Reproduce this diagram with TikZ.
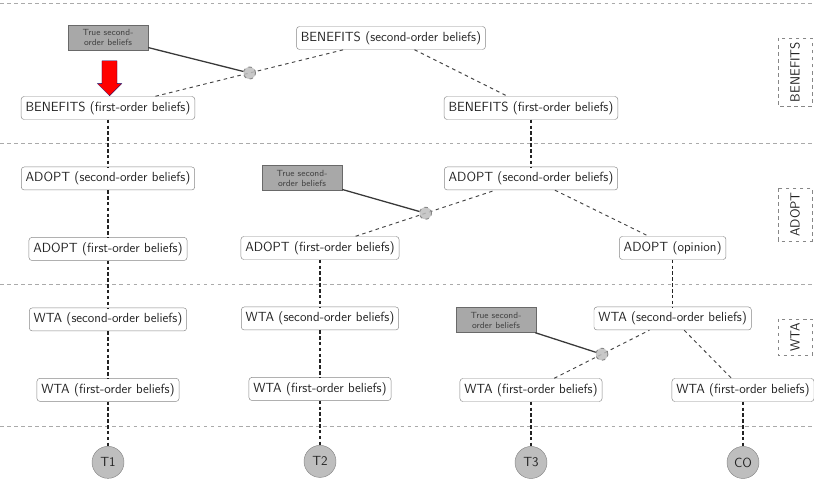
\documentclass[tikz,border=0pt]{standalone}
\usepackage{tikz}
\usetikzlibrary{positioning,shapes.arrows}
\definecolor{beliefline}{RGB}{135,135,135}
\definecolor{beliefink}{RGB}{35,35,35}
\definecolor{truefill}{RGB}{168,168,168}
\definecolor{trueline}{RGB}{105,105,105}
\definecolor{groupfill}{RGB}{190,190,190}
\definecolor{sepline}{RGB}{170,170,170}
\tikzset{
  every node/.style={font=\sffamily\fontsize{11.3}{13.5}\selectfont},
  belief/.style={draw=beliefline, rounded corners=2.5pt, fill=white, text=beliefink,
    minimum height=0.69cm, inner xsep=0.13cm, inner ysep=2pt},
  truebox/.style={draw=trueline, fill=truefill, text=beliefink!85,
    font=\sffamily\fontsize{7.6}{8.6}\selectfont,
    minimum width=2.4cm, minimum height=0.75cm, align=center, inner sep=1pt},
  mixdot/.style={circle, draw=beliefline, fill=groupfill, fill opacity=0.85,
    minimum size=0.36cm, inner sep=0pt},
  group/.style={circle, draw=beliefline, fill=groupfill, text=beliefink,
    minimum size=0.96cm, inner sep=0pt},
  grouplabel/.style={draw=beliefline, dashed, rotate=90, text=beliefink,
    minimum height=1.02cm, inner xsep=0.12cm},
  tiein/.style={densely dashed, line width=1pt, draw=beliefink},
  branch/.style={dashed, line width=0.8pt, draw=beliefink!85},
  truelink/.style={line width=1.1pt, draw=beliefink!90},
  separator/.style={dashed, line width=0.6pt, draw=sepline},
  hintarrow/.style={single arrow, shape border rotate=270, fill=red, draw=blue!40!black,
    line width=0.3pt, minimum height=1.05cm, inner sep=0.22cm,
    single arrow head extend=0.14cm}
}

\begin{document}
\begin{tikzpicture}[node distance=1.41cm]
  \useasboundingbox (0,0) rectangle (24.42,14.4);
  \foreach \y in {14.31,10.11,5.865,1.605}
    \draw[separator] (0,\y) -- (24.42,\y);

  % benefits
  \node[belief] (bensec) at (11.73,13.26) {BENEFITS (second-order beliefs)};
  \node[belief] (benfirst1) at (3.24,11.16) {BENEFITS (first-order beliefs)};
  \node[belief] (benfirst3) at (15.93,11.16) {BENEFITS (first-order beliefs)};
  \node[truebox] (true1) at (3.24,13.275) {True second-\\order beliefs};
  \node[hintarrow] (hint) at (3.285,12.165) {};

  % adopt
  \node[belief, below=of benfirst1] (adsec1) {ADOPT (second-order beliefs)};
  \node[belief, below=of adsec1] (adfirst1) {ADOPT (first-order beliefs)};
  \node[belief] (adfirst2) at (9.6,6.96) {ADOPT (first-order beliefs)};
  \node[belief, below=of benfirst3] (adsec3) {ADOPT (second-order beliefs)};
  \node[belief] (adop) at (20.18,6.96) {ADOPT (opinion)};
  \node[truebox] (true2) at (9.06,9.06) {True second-\\order beliefs};

  % wta
  \node[belief, below=of adfirst1] (wtasec1) {WTA (second-order beliefs)};
  \node[belief, below=of wtasec1] (wtafirst1) {WTA (first-order beliefs)};
  \node[belief, below=of adfirst2] (wtasec2) {WTA (second-order beliefs)};
  \node[belief, below=of wtasec2] (wtafirst2) {WTA (first-order beliefs)};
  \node[belief, below=of adop] (wtasec4) {WTA (second-order beliefs)};
  \node[belief] (wtafirst3) at (15.93,2.7) {WTA (first-order beliefs)};
  \node[belief] (wtafirst4) at (22.29,2.7) {WTA (first-order beliefs)};
  \node[truebox] (true3) at (14.88,4.8) {True second-\\order beliefs};

  \node[group, below=1.335cm of wtafirst1] (t1) {T1};
  \node[group, below=1.335cm of wtafirst2] (t2) {T2};
  \node[group, below=1.335cm of wtafirst3] (t3) {T3};
  \node[group, below=1.335cm of wtafirst4] (co) {CO};

  \node[grouplabel] (lbben) at (23.85,12.24) {BENEFITS};
  \node[grouplabel] (lbadopt) at (23.85,7.965) {ADOPT};
  \node[grouplabel] (lbwta) at (23.85,4.29) {WTA};

  % columns
  \draw[tiein] (benfirst1) -- (adsec1) -- (adfirst1) -- (wtasec1) -- (wtafirst1) -- (t1);
  \draw[tiein] (adfirst2) -- (wtasec2) -- (wtafirst2) -- (t2);
  \draw[tiein] (benfirst3) -- (adsec3);
  \draw[tiein] (wtafirst3) -- (t3);
  \draw[tiein] (adop) -- (wtasec4);
  \draw[tiein] (wtafirst4) -- (co);

  % branches
  \draw[branch] (benfirst1) -- node[mixdot] (mix1) {} (bensec);
  \draw[branch] (bensec) -- (benfirst3);
  \draw[branch] (adfirst2) -- node[mixdot] (mix2) {} (adsec3);
  \draw[branch] (adsec3) -- (adop);
  \draw[branch] (wtafirst3) -- node[mixdot] (mix3) {} (wtasec4);
  \draw[branch] (wtasec4) -- (wtafirst4);

  \draw[truelink] (true1) -- (mix1);
  \draw[truelink] (true2) -- (mix2);
  \draw[truelink] (true3) -- (mix3);
\end{tikzpicture}
\end{document}
